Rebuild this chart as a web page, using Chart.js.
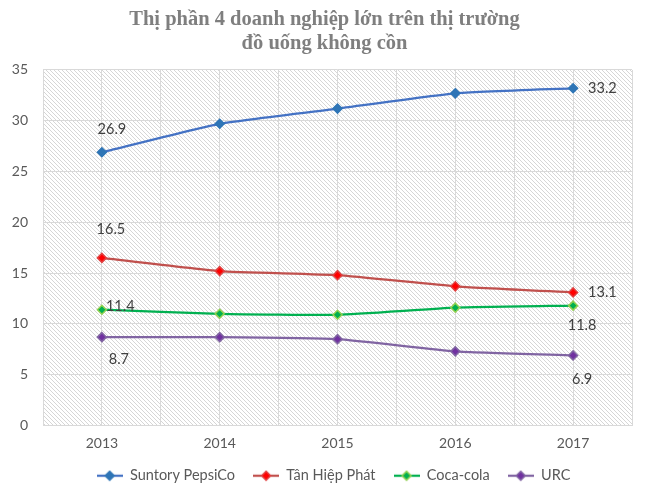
<!DOCTYPE html>
<html><head><meta charset="utf-8">
<script src="https://cdn.jsdelivr.net/npm/chart.js@4"></script>
<style>html,body{margin:0;padding:0;background:#fff}#wrap{width:649px;height:495px;position:relative}</style>
</head><body><div id="wrap"><canvas id="c"></canvas></div>
<script>
// ---- data ----
const years = ['2013', '2014', '2015', '2016', '2017'];
const pepsi = [26.9, 29.7, 31.2, 32.7, 33.2];
const tanHiepPhat = [16.5, 15.2, 14.8, 13.7, 13.1];
const cocaCola = [11.4, 11.0, 10.9, 11.6, 11.8];
const urc = [8.7, 8.7, 8.5, 7.3, 6.9];
const seriesNames = ['Suntory PepsiCo', 'Tân Hiệp Phát', 'Coca-cola', 'URC'];
const titleLines = ['Thị phần 4 doanh nghiệp lớn trên thị trường', 'đồ uống không cồn'];
const labelledIndexes = [0, 4];

// ---- styles ----
const styles = [
  { line: '#4472C4', fill: '#2E75B6', border: '#2E75B6', offs: [[10, -23, 'center'], [15, 0, 'left']] },
  { line: '#C0504D', fill: '#FF0000', border: '#E04040', offs: [[9, -29, 'center'], [15, 0, 'left']] },
  { line: '#00B050', fill: '#00B050', border: '#92D050', offs: [[4, -3, 'left'], [9, 20, 'center']] },
  { line: '#8064A2', fill: '#7030A0', border: '#8064A2', offs: [[17, 22, 'center'], [9, 24, 'center']] }
];
const FONT = 'Lato, "Open Sans", sans-serif';
const TXT = '#595959';
const LEGEND_SHIFT = 9;

function legendImage(s) {
  const cv = document.createElement('canvas');
  cv.width = 26; cv.height = 12;
  const g = cv.getContext('2d');
  g.strokeStyle = s.line; g.lineWidth = 2.25;
  g.beginPath(); g.moveTo(0, 6); g.lineTo(26, 6); g.stroke();
  g.fillStyle = s.fill; g.strokeStyle = s.border; g.lineWidth = 1.5;
  g.beginPath(); g.moveTo(13, 1.5); g.lineTo(17.5, 6); g.lineTo(13, 10.5); g.lineTo(8.5, 6); g.closePath();
  g.fill(); g.stroke();
  return cv;
}

function hatchPattern(ctx) {
  const cv = document.createElement('canvas');
  cv.width = 4; cv.height = 4;
  const g = cv.getContext('2d');
  g.fillStyle = '#d6d6d6';
  for (let i = 0; i < 4; i++) g.fillRect(i, i, 1, 1);
  return ctx.createPattern(cv, 'repeat');
}

const hatchPlugin = {
  id: 'hatch',
  afterLayout(chart) {
    if (chart.legend) { chart.legend.left += LEGEND_SHIFT; chart.legend.right += LEGEND_SHIFT; }
  },
  beforeDraw(chart) {
    const { ctx, chartArea: a } = chart;
    ctx.save();
    ctx.fillStyle = '#ffffff';
    ctx.fillRect(0, 0, chart.width, chart.height);
    ctx.fillStyle = hatchPattern(ctx);
    ctx.fillRect(a.left, a.top, a.right - a.left, a.bottom - a.top);
    ctx.restore();
  }
};

const labelPlugin = {
  id: 'endLabels',
  afterDatasetsDraw(chart) {
    const ctx = chart.ctx;
    ctx.save();
    ctx.font = '14.5px ' + FONT;
    ctx.fillStyle = '#404040';
    ctx.textBaseline = 'middle';
    chart.data.datasets.forEach((ds, di) => {
      const meta = chart.getDatasetMeta(di);
      labelledIndexes.forEach((idx, k) => {
        const el = meta.data[idx];
        const o = styles[di].offs[k];
        ctx.textAlign = o[2];
        ctx.fillText(ds.data[idx].toFixed(1), el.x + o[0], el.y + o[1]);
      });
    });
    ctx.restore();
  }
};

const allSeries = [pepsi, tanHiepPhat, cocaCola, urc];
const datasets = allSeries.map((d, i) => ({
  label: seriesNames[i],
  data: d,
  borderColor: styles[i].line,
  backgroundColor: styles[i].fill,
  pointBackgroundColor: styles[i].fill,
  pointBorderColor: styles[i].border,
  pointBorderWidth: 1.5,
  pointStyle: 'rectRot',
  pointRadius: 4.5,
  borderWidth: 2.25,
  tension: 0.15,
  xAxisID: 'x',
  yAxisID: 'y'
}));

new Chart(document.getElementById('c'), {
  type: 'line',
  data: { labels: years, datasets },
  plugins: [hatchPlugin, labelPlugin],
  options: {
    responsive: true,
    maintainAspectRatio: false,
    animation: false,
    layout: { padding: { left: 0, right: 0, top: 0, bottom: 2 } },
    plugins: {
      tooltip: { enabled: false },
      title: {
        display: true,
        text: titleLines,
        color: '#7F7F7F',
        font: { family: '"Liberation Serif", serif', size: 20.5, weight: 'bold', lineHeight: 1.17 },
        padding: { top: 8, bottom: 14 }
      },
      legend: {
        position: 'bottom',
        labels: {
          color: TXT,
          font: { family: FONT, size: 14.5 },
          usePointStyle: true,
          pointStyleWidth: 26,
          boxHeight: 12,
          padding: 18,
          generateLabels(chart) {
            return chart.data.datasets.map((ds, i) => ({
              text: ds.label,
              pointStyle: legendImage(styles[i]),
              fillStyle: styles[i].fill,
              strokeStyle: styles[i].line,
              fontColor: TXT,
              lineWidth: 0,
              hidden: false,
              datasetIndex: i
            }));
          }
        }
      }
    },
    scales: {
      x: {
        type: 'category',
        offset: true,
        grid: { offset: true, color: '#d9d9d9', drawTicks: false, lineWidth: 1 },
        border: { color: '#d9d9d9' },
        ticks: { color: TXT, font: { family: FONT, size: 14 }, padding: 10 },
        afterFit(s) { s.height = 25; }
      },
      x2: {
        type: 'category',
        labels: years,
        offset: true,
        position: 'bottom',
        grid: { offset: false, color: '#d9d9d9', drawTicks: false, lineWidth: 1 },
        border: { display: false },
        ticks: { display: false },
        afterFit(s) { s.height = 0; }
      },
      y: {
        min: 0, max: 35,
        ticks: { stepSize: 5, color: TXT, font: { family: FONT, size: 14 }, padding: 15 },
        grid: { color: '#d9d9d9', drawTicks: false },
        border: { display: false },
        afterFit(s) { s.width = 43; }
      },
      yRight: {
        position: 'right',
        min: 0, max: 35,
        grid: { display: false, drawTicks: false },
        border: { display: false },
        ticks: { display: false },
        afterFit(s) { s.width = 17; }
      }
    }
  }
});
</script>
</body></html>
